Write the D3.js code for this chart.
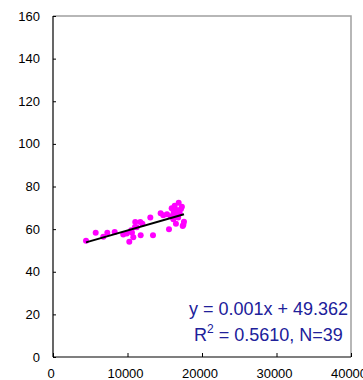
<!DOCTYPE html>
<html><head><meta charset="utf-8">
<script src="https://cdn.jsdelivr.net/npm/d3@7"></script>
<style>body{margin:0;background:#fff}svg{display:block}</style>
</head><body>
<script>
const xValues = [4430,5730,6750,7290,8280,9430,10240,10600,10780,11040,11230,11720,11770,13060,13420,14450,15300,15570,15930,16150,16330,16600,16870,17180,17410,17580,16400,16800,17000,15800,16200,17300,11000,10500,12000,14800,16500,17500,9900];
const yValues = [54.6,58.3,56.4,58.3,58.6,57.5,54.1,58.3,56.2,63.3,60.9,63.3,57.1,65.5,57.1,67.4,67.0,59.9,69.8,64.6,71.0,69.0,72.4,69.4,61.5,63.5,66.5,65.5,67.5,66.0,68.0,70.5,61.0,59.5,62.5,66.5,62.5,62.0,58.0];
const xTicks = [0,10000,20000,30000,40000];
const yTicks = [0,20,40,60,80,100,120,140,160];
const slope = [0.001];
const intercept = [49.362];
const eqLines = ["y = 0.001x + 49.362", "R", "2", " = 0.5610, N=39"];

const W=363,H=380;
const svg=d3.select("body").append("svg").attr("width",W).attr("height",H);
const x=d3.scaleLinear().domain([0,40000]).range([53,351]);
const y=d3.scaleLinear().domain([0,160]).range([357,16]);
const font="Liberation Sans, Arial, sans-serif";

// frame top/right grey
svg.append("path").attr("d",`M${x(0)},${y(160)}H${x(40000)}V${y(0)}`)
  .attr("fill","none").attr("stroke","#a0a0a0").attr("stroke-width",1.5);

// y axis
const ya=svg.append("g").attr("transform",`translate(${x(0)},0)`)
  .call(d3.axisRight(y).tickValues(yTicks).tickSize(3).tickFormat(""));
ya.select(".domain").attr("d",`M0,${y(160)}V${y(0)}`).attr("stroke","#000").attr("stroke-width",1.2);
ya.selectAll(".tick line").attr("stroke","#000");
svg.append("g").selectAll("text").data(yTicks).join("text")
  .attr("x",40).attr("y",d=>y(d)).attr("dy","0.35em").attr("text-anchor","end")
  .attr("font-family",font).attr("font-size",13).attr("fill","#000").text(d=>d);

// x axis
const xa=svg.append("g").attr("transform",`translate(0,${y(0)})`)
  .call(d3.axisTop(x).tickValues(xTicks).tickSize(4).tickFormat(""));
xa.select(".domain").attr("d",`M${x(0)},0H${x(40000)}`).attr("stroke","#000").attr("stroke-width",1.2);
xa.selectAll(".tick line").attr("stroke","#000");
svg.append("g").selectAll("text").data(xTicks).join("text")
  .attr("x",d=>x(d)-2).attr("y",378).attr("text-anchor","middle")
  .attr("font-family",font).attr("font-size",13).attr("fill","#000").text(d=>d);

// points
const pts=xValues.map((v,i)=>[v,yValues[i]]);
svg.append("g").selectAll("circle").data(pts).join("circle")
  .attr("cx",d=>x(d[0])).attr("cy",d=>y(d[1])).attr("r",3).attr("fill","#ff00ff");

// trend line
const xmin=d3.min(xValues),xmax=d3.max(xValues);
svg.append("line").attr("x1",x(xmin)).attr("y1",y(slope[0]*xmin+intercept[0]))
  .attr("x2",x(xmax)).attr("y2",y(slope[0]*xmax+intercept[0]))
  .attr("stroke","#000").attr("stroke-width",2);

// equation
const eqColor="#20209a";
svg.append("text").attr("x",268.5).attr("y",315).attr("text-anchor","middle")
  .attr("font-family",font).attr("font-size",18).attr("fill",eqColor).text(eqLines[0]);
const t2=svg.append("text").attr("x",268.5).attr("y",340.5).attr("text-anchor","middle")
  .attr("font-family",font).attr("font-size",18).attr("fill",eqColor);
t2.append("tspan").text(eqLines[1]);
t2.append("tspan").attr("font-size",12).attr("dy",-8).text(eqLines[2]);
t2.append("tspan").attr("dy",8).text(eqLines[3]);
</script>
</body></html>
